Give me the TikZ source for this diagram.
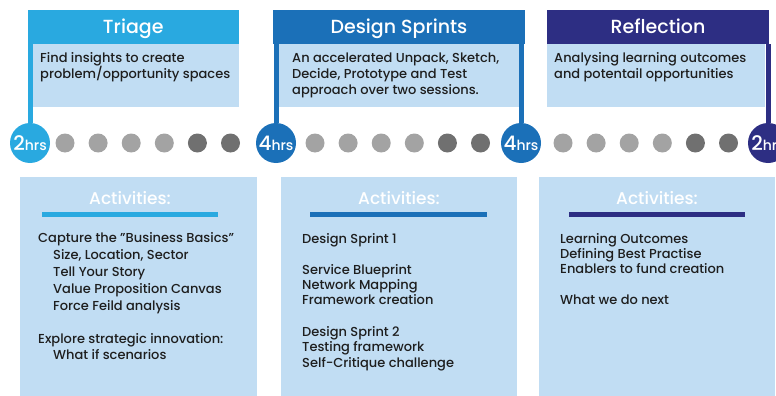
\documentclass[tikz,border=0pt]{standalone}
\usepackage{fontspec}
\setmainfont{Poppins}[UprightFont=* Medium]
\usepackage{xcolor}
\usetikzlibrary{positioning}

\definecolor{triageblue}{HTML}{29A9E0}
\definecolor{sprintblue}{HTML}{1B70B8}
\definecolor{reflectblue}{HTML}{2D2E83}
\definecolor{paleblue}{HTML}{C1DDF3}
\definecolor{dotlight}{HTML}{A3A3A3}
\definecolor{dotdark}{HTML}{707070}
\definecolor{inkdark}{HTML}{1E1E1E}

\newcommand{\hrslabel}[1]{{\fontsize{20}{20}\selectfont #1}{\fontsize{14}{14}\selectfont hrs}}

\begin{document}
\begin{tikzpicture}[x=1pt, y=-1pt,
    headbox/.style={fill=#1, text=white, minimum height=34pt, inner sep=0pt,
        text height=13pt, text depth=0pt, font=\fontsize{19}{19}\selectfont},
    hourdot/.style={circle, fill=#1, text=white, minimum size=40pt, inner sep=0pt},
    pole/.style={line width=5pt, #1},
    bodytext/.style={anchor=base west, inner sep=0pt, text=inkdark, font=\fontsize{13}{15}\selectfont},
    acthead/.style={anchor=base, inner sep=0pt, text=white, font=\fontsize{17}{17}\selectfont},
    actbar/.style={line width=4.5pt, #1}]
\useasboundingbox (0,0) rectangle (776,396);
\clip (0,0) rectangle (776,396);

% phase headers
\node[headbox=triageblue, minimum width=211.5pt] (triage) at (133.25,27) {Triage};
\node[headbox=sprintblue, minimum width=252pt] (sprints) at (399,27) {Design Sprints};
\node[headbox=reflectblue, minimum width=222pt] (reflect) at (658,27) {Reflection};

\fill[paleblue] (32,44) rectangle (239,107);
\fill[paleblue] (278,44) rectangle (520,107);
\fill[paleblue] (547,44) rectangle (765,107);

\foreach \ty/\tl [count=\i] in {63/Find insights to create, 78/{problem/opportunity spaces}}
    \node[bodytext] (triageL\i) at (40,\ty) {\tl};
\foreach \ty/\tl [count=\i] in {63/{An accelerated Unpack, Sketch,}, 78.5/{Decide, Prototype and Test},
    94/approach over two sessions.}
    \node[bodytext] (sprintsL\i) at (292,\ty) {\tl};
\foreach \ty/\tl [count=\i] in {63/Analysing learning outcomes, 78/and potentail opportunities}
    \node[bodytext] (reflectL\i) at (554,\ty) {\tl};

% timeline
\foreach \s/\o in {30/35, 276/39, 521/42} {
    \foreach \k in {0,...,3}
        \fill[dotlight] (\s+\o+33.1*\k,143) circle (9.5pt);
    \foreach \k in {4,5}
        \fill[dotdark] (\s+\o+33.1*\k,143) circle (9.5pt);
}
\node[hourdot=triageblue] (h1) at (30,143) {\hrslabel{2}};
\node[hourdot=sprintblue] (h2) at (276,143) {\hrslabel{4}};
\node[hourdot=sprintblue] (h3) at (521,143) {\hrslabel{4}};
\node[hourdot=reflectblue] (h4) at (768,143) {\hrslabel{2}};

\draw[pole=triageblue] (h1.north) -- (h1 |- triage.south);
\draw[pole=sprintblue] (h2.north) -- (h2 |- sprints.south);
\draw[pole=sprintblue] (h3.north) -- (h3 |- sprints.south);
\draw[pole=reflectblue] (h4.north) -- (h4 |- reflect.south);

% activities
\fill[paleblue] (20,177) rectangle (257,396);
\fill[paleblue] (281,177) rectangle (517,396);
\fill[paleblue] (539,177) rectangle (775,396);

\node[acthead] (act1) at (130,204) {Activities:};
\node[acthead] (act2) at (399,204) {Activities:};
\node[acthead] (act3) at (657,204) {Activities:};
\draw[actbar=triageblue] (42,214.5) -- (218,214.5);
\draw[actbar=sprintblue] (310,214.5) -- (487,214.5);
\draw[actbar=reflectblue] (569,214.5) -- (745,214.5);

\foreach \ty/\tx/\tl [count=\i] in {242/38/{Capture the "Business Basics"}, 259/53/{Size, Location, Sector},
    276/53/Tell Your Story, 293/53/Value Proposition Canvas, 310/53/Force Feild analysis,
    343/38/Explore strategic innovation:, 359/53/What if scenarios}
    \node[bodytext] (triageA\i) at (\tx,\ty) {\tl};
\foreach \ty/\tl [count=\i] in {243/Design Sprint 1, 274/Service Blueprint, 289/Network Mapping,
    304/Framework creation, 336/Design Sprint 2, 351/Testing framework, 367/Self-Critique challenge}
    \node[bodytext] (sprintsA\i) at (302,\ty) {\tl};
\foreach \ty/\tl [count=\i] in {243/Learning Outcomes, 258/Defining Best Practise,
    273/Enablers to fund creation, 304/What we do next}
    \node[bodytext] (reflectA\i) at (560,\ty) {\tl};
\end{tikzpicture}
\end{document}
